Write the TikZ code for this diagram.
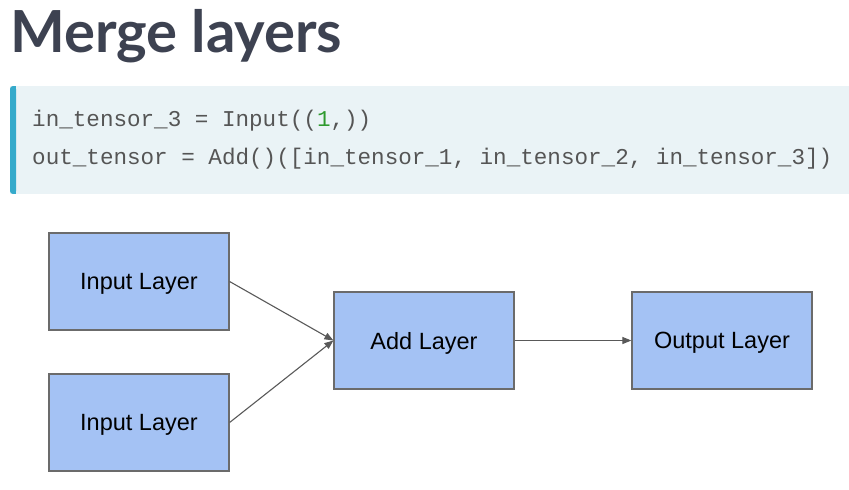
\documentclass[tikz,border=0pt]{standalone}
\usepackage{fontspec}
\setmainfont{Liberation Sans}
\newfontfamily\titlefont{Lato}
\newfontfamily\codefont{Liberation Mono}
\usetikzlibrary{arrows.meta}
\definecolor{titlecol}{HTML}{3D4251}
\definecolor{codebg}{HTML}{EAF3F6}
\definecolor{codebar}{HTML}{35AACB}
\definecolor{codetxt}{HTML}{555555}
\definecolor{codenum}{HTML}{2E9A2E}
\definecolor{boxfill}{HTML}{A4C2F4}
\definecolor{boxline}{HTML}{6B6B6B}
\definecolor{arrowcol}{HTML}{595959}
\tikzset{
  layerbox/.style={draw=boxline, line width=1.2pt, fill=boxfill, minimum width=180pt, minimum height=97pt, inner sep=0pt, text depth=-2pt, font=\fontsize{23.5}{27}\selectfont},
  conn/.style={draw=arrowcol, line width=1.1pt, -{Triangle[length=9pt,width=7pt]}},
  codeline/.style={anchor=base west, inner sep=0pt, text=codetxt, font=\codefont\fontsize{22.6}{26}\selectfont}
}
\begin{document}
\begin{tikzpicture}[x=1pt,y=-1pt]
\useasboundingbox (0,0) rectangle (849,490);
% title
\node[anchor=base west, inner sep=0pt, text=titlecol, font=\titlefont\bfseries\fontsize{58}{68}\selectfont] (title) at (10,52) {Merge layers};
% code block
\fill[codebg] (10,86) rectangle (849,194);
\fill[codebar, rounded corners=3pt] (10,86) rectangle (16,194);
\fill[codebar] (13,86) rectangle (16,194);
\node[codeline] (code1) at (32,126) {in\_tensor\_3 = Input((\textcolor{codenum}{1},))};
\node[codeline] (code2) at (32,164) {out\_tensor = Add()([in\_tensor\_1, in\_tensor\_2, in\_tensor\_3])};
% diagram
\node[layerbox] (in1) at (139,281.5) {Input Layer};
\node[layerbox] (in2) at (139,422.5) {Input Layer};
\node[layerbox] (add) at (424,340.5) {Add Layer};
\node[layerbox] (out) at (722,340.5) {Output Layer};
\draw[conn] (in1.east) -- (add.west);
\draw[conn] (in2.east) -- (add.west);
\draw[conn] (add.east) -- (out.west);
\end{tikzpicture}
\end{document}
